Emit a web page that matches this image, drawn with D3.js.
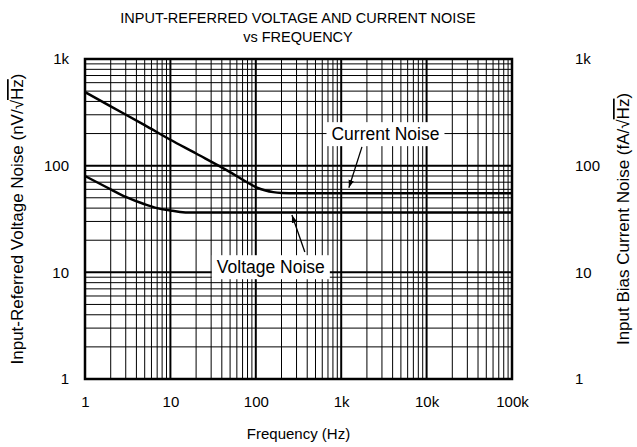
<!DOCTYPE html>
<html>
<head>
<meta charset="utf-8">
<script src="https://cdn.jsdelivr.net/npm/d3@7"></script>
<style>
  body { margin: 0; background: #fff; }
  text { font-family: "Liberation Sans", Arial, sans-serif; fill: #000; }
</style>
</head>
<body>
<div id="chart"></div>
<script>
// data
var xTicks = [1, 10, 100, 1000, 10000, 100000];
var xTickLabels = ["1", "10", "100", "1k", "10k", "100k"];
var yTicks = [1, 10, 100, 1000];
var yTickLabels = ["1", "10", "100", "1k"];

// current noise (fA/rtHz), upper curve
var currentFreq = [1, 2, 5, 10, 20, 50, 70, 100, 130, 160, 200, 300, 1000, 100000];
var currentVal = [490, 360, 240, 175, 130, 87, 74, 63, 58.5, 56.5, 55.5, 55, 55, 55];

// voltage noise (nV/rtHz), lower curve
var voltageFreq = [1, 2, 3, 5, 7, 10, 13, 17, 100000];
var voltageVal = [80, 60, 51, 43.5, 40, 38, 36.8, 36.3, 36.3];

// labels + arrows (tail / tip in data units)
var notes = [
  { text: "Current Noise", tf: 3300, tv: 198, ax: 1750, ay: 150, bx: 1230, by: 62 },
  { text: "Voltage Noise", tf: 150, tv: 11.2, ax: 375, ay: 15.5, bx: 265, by: 34.5 }
];

var margin = {top: 59, right: 125, bottom: 68, left: 85},
    width = 637 - margin.left - margin.right,
    height = 447 - margin.top - margin.bottom;

var svg = d3.select("#chart")
  .append("svg")
    .attr("width", 637)
    .attr("height", 447);

var chart = svg.append("g")
    .attr("transform", "translate(" + margin.left + "," + margin.top + ")");

var x = d3.scaleLog().domain([1, 100000]).range([0, width]);
var y = d3.scaleLog().domain([1, 1000]).range([height, 0]);

// grid lines: every 1..9 of each decade
var xGrid = [], yGrid = [];
for (var d = 1; d < 100000; d *= 10)
  for (var k = 1; k < 10; k++) xGrid.push(d * k);
for (var d2 = 1; d2 < 1000; d2 *= 10)
  for (var k2 = 1; k2 < 10; k2++) yGrid.push(d2 * k2);

function isDecade(v) { return Math.abs(Math.log10(v) - Math.round(Math.log10(v))) < 1e-9; }

chart.selectAll(".vgrid")
  .data(xGrid)
  .enter()
  .append("line")
    .attr("x1", function(v) { return x(v); })
    .attr("x2", function(v) { return x(v); })
    .attr("y1", 0)
    .attr("y2", height)
    .attr("stroke", "#000")
    .attr("stroke-width", function(v) { return isDecade(v) ? 2 : 1; });

chart.selectAll(".hgrid")
  .data(yGrid)
  .enter()
  .append("line")
    .attr("y1", function(v) { return y(v); })
    .attr("y2", function(v) { return y(v); })
    .attr("x1", 0)
    .attr("x2", width)
    .attr("stroke", "#000")
    .attr("stroke-width", function(v) { return isDecade(v) ? 2 : 1; });

// curves
var line = d3.line()
  .x(function(d) { return x(d[0]); })
  .y(function(d) { return y(d[1]); })
  .curve(d3.curveMonotoneX);

chart.append("path")
  .datum(d3.zip(currentFreq, currentVal))
  .attr("d", line)
  .attr("fill", "none")
  .attr("stroke", "#000")
  .attr("stroke-width", 2.5);

chart.append("path")
  .datum(d3.zip(voltageFreq, voltageVal))
  .attr("d", line)
  .attr("fill", "none")
  .attr("stroke", "#000")
  .attr("stroke-width", 2.5);

// frame
chart.append("rect")
  .attr("width", width)
  .attr("height", height)
  .attr("fill", "none")
  .attr("stroke", "#000")
  .attr("stroke-width", 2.5);

// axes (labels only)
var xAxis = chart.append("g")
  .attr("transform", "translate(0," + height + ")")
  .call(d3.axisBottom(x).tickValues(xTicks).tickSize(0).tickPadding(17)
    .tickFormat(function(d, i) { return xTickLabels[i]; }));
var yLeft = chart.append("g")
  .call(d3.axisLeft(y).tickValues(yTicks).tickSize(0).tickPadding(16)
    .tickFormat(function(d, i) { return yTickLabels[i]; }));
var yRight = chart.append("g")
  .attr("transform", "translate(" + width + ",0)")
  .call(d3.axisRight(y).tickValues(yTicks).tickSize(0).tickPadding(63)
    .tickFormat(function(d, i) { return yTickLabels[i]; }));
[xAxis, yLeft, yRight].forEach(function(a) {
  a.select(".domain").remove();
  a.selectAll("text")
    .attr("font-family", "Liberation Sans, Arial, sans-serif")
    .attr("font-size", "15px");
});

// annotations
svg.append("defs").append("marker")
  .attr("id", "arrow")
  .attr("viewBox", "0 0 10 10")
  .attr("refX", 10).attr("refY", 5)
  .attr("markerWidth", 6).attr("markerHeight", 6)
  .attr("markerUnits", "strokeWidth")
  .attr("orient", "auto")
  .append("path")
    .attr("d", "M0,1.5 L10,5 L0,8.5 z")
    .attr("fill", "#000");

notes.forEach(function(n) {
  var g = chart.append("g");
  var t = g.append("text")
    .attr("x", x(n.tf))
    .attr("y", y(n.tv))
    .attr("dy", "0.35em")
    .attr("text-anchor", "middle")
    .attr("font-size", "17.5px")
    .text(n.text);
  var bb = t.node().getBBox();
  g.insert("rect", ":first-child")
    .attr("x", bb.x - 5)
    .attr("y", bb.y - 2)
    .attr("width", bb.width + 10)
    .attr("height", bb.height + 4)
    .attr("fill", "#fff");
  g.append("line")
    .attr("x1", x(n.ax)).attr("y1", y(n.ay))
    .attr("x2", x(n.bx)).attr("y2", y(n.by))
    .attr("stroke", "#000")
    .attr("stroke-width", 1.3)
    .attr("marker-end", "url(#arrow)");
});

// titles
svg.append("text")
  .attr("x", 298).attr("y", 23)
  .attr("text-anchor", "middle")
  .attr("font-size", "14.5px")
  .text("INPUT-REFERRED VOLTAGE AND CURRENT NOISE");
svg.append("text")
  .attr("x", 298).attr("y", 42)
  .attr("text-anchor", "middle")
  .attr("font-size", "14.5px")
  .text("vs FREQUENCY");

svg.append("text")
  .attr("x", margin.left + width / 2)
  .attr("y", 439)
  .attr("text-anchor", "middle")
  .attr("font-size", "15px")
  .text("Frequency (Hz)");

var yl = svg.append("text")
  .attr("transform", "translate(23," + (margin.top + height / 2) + ")rotate(-90)")
  .attr("text-anchor", "middle")
  .attr("font-size", "17px");
yl.append("tspan").text("Input-Referred Voltage Noise (nV/\u221A");
yl.append("tspan").style("text-decoration", "overline").text("Hz");
yl.append("tspan").text(")");

var yr = svg.append("text")
  .attr("transform", "translate(629," + (margin.top + height / 2) + ")rotate(-90)")
  .attr("text-anchor", "middle")
  .attr("font-size", "17px");
yr.append("tspan").text("Input Bias Current Noise (fA/\u221A");
yr.append("tspan").style("text-decoration", "overline").text("Hz");
yr.append("tspan").text(")");
</script>
</body>
</html>
